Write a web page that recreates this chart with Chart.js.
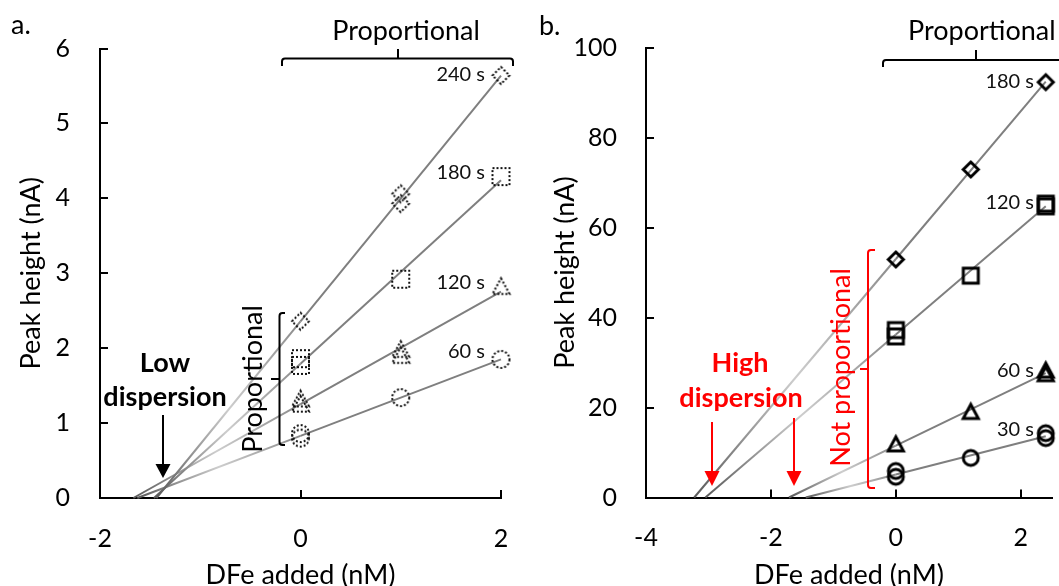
<!DOCTYPE html>
<html><head><meta charset="utf-8">
<script src="https://cdn.jsdelivr.net/npm/chart.js@4"></script>
<style>
html,body{margin:0;padding:0;background:#fff;}
#wrap{position:relative;width:1059px;height:586px;overflow:hidden;background:#fff;}
.panel{position:absolute;top:0;height:586px;}
#pa{left:0;width:530px;}
#pb{left:530px;width:529px;}
</style></head><body>
<div id="wrap"><div class="panel" id="pa"><canvas id="ca"></canvas></div><div class="panel" id="pb"><canvas id="cb"></canvas></div></div>
<script>
// ---------- DATA: panel a (low dispersion) ----------
const aSeriesLabels = ['240 s', '180 s', '120 s', '60 s'];
const a240x = [0, 1, 1, 2];
const a240y = [2.36, 4.06, 3.93, 5.64];
const a180x = [0, 0, 1, 2];
const a180y = [1.77, 1.86, 2.92, 4.29];
const a120x = [0, 0, 1, 1, 2];
const a120y = [1.25, 1.32, 1.90, 1.98, 2.82];
const a60x = [0, 0, 1, 2];
const a60y = [0.80, 0.86, 1.34, 1.85];
const aXTicks = [-2, 0, 2];
const aYTicks = [0, 1, 2, 3, 4, 5, 6];

// ---------- DATA: panel b (high dispersion) ----------
const bSeriesLabels = ['180 s', '120 s', '60 s', '30 s'];
const b180x = [0, 1.2, 2.4];
const b180y = [52.9, 72.9, 92.3];
const b120x = [0, 0, 1.2, 2.4, 2.4];
const b120y = [37.2, 35.8, 49.3, 64.7, 65.3];
const b60x = [0, 1.2, 2.4, 2.4];
const b60y = [11.8, 19.0, 27.4, 28.2];
const b30x = [0, 0, 1.2, 2.4, 2.4];
const b30y = [5.9, 4.6, 8.8, 14.3, 13.2];
const bXTicks = [-4, -2, 0, 2];
const bXMax = 2.5;
const bYTicks = [0, 20, 40, 60, 80, 100];

// ---------- helpers ----------
const F = 'Lato, "Open Sans", sans-serif';
function fit(xs, ys) {
  const n = xs.length;
  const mx = xs.reduce((s, v) => s + v, 0) / n;
  const my = ys.reduce((s, v) => s + v, 0) / n;
  let sxy = 0, sxx = 0;
  for (let i = 0; i < n; i++) { sxy += (xs[i] - mx) * (ys[i] - my); sxx += (xs[i] - mx) * (xs[i] - mx); }
  const m = sxy / sxx;
  return { m, b: my - m * mx };
}
function fitLine(xs, ys) {
  const { m, b } = fit(xs, ys);
  const xe = Math.max(...xs);
  return [{ x: -b / m, y: 0 }, { x: 0, y: b }, { x: xe, y: m * xe + b }];
}
function pts(xs, ys) { return xs.map((x, i) => ({ x, y: ys[i] })); }
function marker(shape, size, lw, dash, color) {
  const pad = Math.ceil(lw) + 1;
  const d = Math.ceil(size + 2 * pad);
  const c = document.createElement('canvas'); c.width = d; c.height = d;
  const g = c.getContext('2d');
  g.strokeStyle = color; g.lineWidth = lw; if (dash) g.setLineDash(dash);
  const cx = d / 2, cy = d / 2, r = size / 2;
  g.beginPath();
  if (shape === 'circle') g.arc(cx, cy, r, 0, Math.PI * 2);
  else if (shape === 'square') g.rect(cx - r, cy - r, 2 * r, 2 * r);
  else if (shape === 'diamond') { g.moveTo(cx, cy - r); g.lineTo(cx + r, cy); g.lineTo(cx, cy + r); g.lineTo(cx - r, cy); g.closePath(); }
  else if (shape === 'triangle') { g.moveTo(cx, cy - r); g.lineTo(cx + r, cy + r * 0.85); g.lineTo(cx - r, cy + r * 0.85); g.closePath(); }
  g.stroke();
  return c;
}
function segColor(g2) {
  return (s) => {
    if (s.p0DataIndex !== 0) return '#7f7f7f';
    const gr = g2.createLinearGradient(s.p0.x, s.p0.y, s.p1.x, s.p1.y);
    gr.addColorStop(0, '#5a5a5a'); gr.addColorStop(0.5, '#cdcdcd'); gr.addColorStop(1, '#8a8a8a');
    return gr;
  };
}
function lineDs(xs, ys, g2) {
  return { data: fitLine(xs, ys), showLine: true, borderColor: '#7f7f7f', borderWidth: 2, pointRadius: 0,
    pointHoverRadius: 0, fill: false, tension: 0, clip: false, segment: { borderColor: segColor(g2) }, order: 2 };
}
function markDs(xs, ys, img) {
  return { data: pts(xs, ys), showLine: false, pointStyle: img, pointRadius: 9, clip: false, order: 1 };
}
function bracketV(g, x, y1, y2, xEnd, yc, xTip) {
  g.beginPath();
  g.moveTo(xEnd, y1); g.arcTo(x, y1, x, y1 + 4, 3); g.lineTo(x, y2 - 4); g.arcTo(x, y2, xEnd, y2, 3); g.lineTo(xEnd, y2);
  g.moveTo(x, yc); g.lineTo(xTip, yc);
  g.stroke();
}
function bracketH(g, x1, x2, y, yEnd, xc, yTip) {
  g.beginPath();
  g.moveTo(x1, yEnd); g.arcTo(x1, y, x1 + 4, y, 3); g.lineTo(x2 - 4, y); g.arcTo(x2, y, x2, yEnd, 3); g.lineTo(x2, yEnd);
  g.moveTo(xc, y); g.lineTo(xc, yTip);
  g.stroke();
}
function arrow(g, x, y1, y2, hw, hl) {
  g.beginPath(); g.moveTo(x, y1); g.lineTo(x, y2 - hl + 1); g.stroke();
  g.beginPath(); g.moveTo(x - hw / 2, y2 - hl); g.lineTo(x + hw / 2, y2 - hl); g.lineTo(x, y2); g.closePath(); g.fill();
}
function vText(g, txt, x, y) {
  g.save(); g.translate(x, y); g.rotate(-Math.PI / 2); g.textAlign = 'center'; g.textBaseline = 'alphabetic';
  g.fillText(txt, 0, 0); g.restore();
}
function scales(cfg) {
  const common = (ax) => ({
    type: 'linear', min: ax.min, max: ax.max,
    ticks: { stepSize: ax.step, includeBounds: false, color: '#000', font: { family: F, size: 25 }, padding: ax.pad },
    grid: { drawOnChartArea: false, drawTicks: true, tickLength: -8, color: '#000', lineWidth: 2 },
    border: { color: '#000', width: 2 },
    title: { display: true, text: ax.title, color: '#000', font: { family: F, size: 27, lineHeight: 1 }, padding: ax.tpad },
    afterFit: (s) => {
      ax.fitFn(s);
      s.paddingLeft = 0; s.paddingRight = 0; s.paddingTop = 0; s.paddingBottom = 0;
    }
  });
  return { x: common(cfg.x), y: common(cfg.y) };
}

// ---------- panel a ----------
const gA = document.getElementById('ca').getContext('2d');
const dotA = [2, 2];
const aMarks = [marker('diamond', 17, 2, dotA, '#111'), marker('square', 17, 2, dotA, '#111'),
                marker('triangle', 17, 2, dotA, '#111'), marker('circle', 17, 2, dotA, '#111')];
const aXs = [a240x, a180x, a120x, a60x], aYs = [a240y, a180y, a120y, a60y];
const aDatasets = [];
aXs.forEach((xs, i) => { aDatasets.push(lineDs(xs, aYs[i], gA)); });
aXs.forEach((xs, i) => { aDatasets.push(markDs(xs, aYs[i], aMarks[i])); });

const decorA = {
  id: 'decorA',
  afterDraw(chart) {
    const g = chart.ctx; g.save();
    g.fillStyle = '#000'; g.strokeStyle = '#000'; g.lineWidth = 2;
    g.font = '27px ' + F; g.textAlign = 'left'; g.textBaseline = 'alphabetic';
    g.fillText('a.', 11, 34);
    g.textAlign = 'center';
    g.fillText('Proportional', 406, 40);
    bracketH(g, 282, 513, 58.5, 66, 398, 49);
    bracketV(g, 279.5, 313, 445, 285, 379, 271);
    vText(g, 'Proportional', 262, 379);
    g.font = 'bold 27px ' + F; g.textAlign = 'center';
    g.fillText('Low', 165, 372);
    g.fillText('dispersion', 165, 406);
    arrow(g, 163, 415, 478, 15, 14);
    g.font = '20px ' + F; g.textAlign = 'right'; g.textBaseline = 'middle'; g.fillStyle = '#111';
    const ly = [75, 173, 283, 352];
    aSeriesLabels.forEach((t, i) => g.fillText(t, 485, ly[i]));
    g.restore();
  }
};
new Chart(gA, {
  type: 'scatter',
  data: { datasets: aDatasets },
  options: {
    responsive: true, maintainAspectRatio: false, animation: false,
    layout: { autoPadding: false, padding: { left: 0, right: 29, top: 48.5, bottom: 0 } },
    plugins: { legend: { display: false }, tooltip: { enabled: false } },
    scales: scales({
      x: { min: aXTicks[0], max: aXTicks[aXTicks.length - 1], step: aXTicks[1] - aXTicks[0], pad: 34,
           title: 'DFe added (nM)', tpad: { top: 0, bottom: -3 }, fitFn: s => { s.height = 88; } },
      y: { min: aYTicks[0], max: aYTicks[aYTicks.length - 1], step: aYTicks[1] - aYTicks[0], pad: 38,
           title: 'Peak height (nA)', tpad: { top: 18, bottom: 0 }, fitFn: s => { s.width = 100; } }
    })
  },
  plugins: [decorA]
});

// ---------- panel b ----------
const gB = document.getElementById('cb').getContext('2d');
const bMarks = [marker('diamond', 15, 3, null, '#000'), marker('square', 15, 3, null, '#000'),
                marker('triangle', 15, 3, null, '#000'), marker('circle', 15, 3, null, '#000')];
const bXs = [b180x, b120x, b60x, b30x], bYs = [b180y, b120y, b60y, b30y];
const bDatasets = [];
bXs.forEach((xs, i) => { bDatasets.push(lineDs(xs, bYs[i], gB)); });
bXs.forEach((xs, i) => { bDatasets.push(markDs(xs, bYs[i], bMarks[i])); });

const decorB = {
  id: 'decorB',
  afterDraw(chart) {
    const g = chart.ctx; g.save();
    g.fillStyle = '#000'; g.strokeStyle = '#000'; g.lineWidth = 2;
    g.font = '27px ' + F; g.textAlign = 'left'; g.textBaseline = 'alphabetic';
    g.fillText('b.', 9, 35);
    g.fillText('Proportional', 378, 40);
    bracketH(g, 353, 560, 60, 67, 446, 50);
    // red annotations
    g.fillStyle = '#ff0000'; g.strokeStyle = '#ff0000';
    bracketV(g, 338, 250, 488, 345, 369, 330);
    vText(g, 'Not proportional', 320, 367.5);
    g.font = 'bold 27px ' + F; g.textAlign = 'center';
    g.fillText('High', 210, 372);
    g.fillText('dispersion', 211, 407);
    arrow(g, 182, 422, 486, 15, 15);
    arrow(g, 264, 418, 486, 15, 15);
    g.fillStyle = '#111';
    g.font = '20px ' + F; g.textAlign = 'right'; g.textBaseline = 'middle';
    const ly = [81.5, 203, 371, 429.5];
    bSeriesLabels.forEach((t, i) => g.fillText(t, 504, ly[i]));
    g.restore();
  }
};
new Chart(gB, {
  type: 'scatter',
  data: { datasets: bDatasets },
  options: {
    responsive: true, maintainAspectRatio: false, animation: false,
    layout: { autoPadding: false, padding: { left: 0, right: 7, top: 47.5, bottom: 0 } },
    plugins: { legend: { display: false }, tooltip: { enabled: false } },
    scales: scales({
      x: { min: bXTicks[0], max: bXMax, step: bXTicks[1] - bXTicks[0], pad: 33,
           title: 'DFe added (nM)', tpad: { top: 0, bottom: -3 }, fitFn: s => { s.height = 88.5; } },
      y: { min: bYTicks[0], max: bYTicks[bYTicks.length - 1], step: bYTicks[1] - bYTicks[0], pad: 37,
           title: 'Peak height (nA)', tpad: { top: 21.5, bottom: 0 }, fitFn: s => { s.width = 116; } }
    })
  },
  plugins: [decorB]
});
</script>
</body></html>
